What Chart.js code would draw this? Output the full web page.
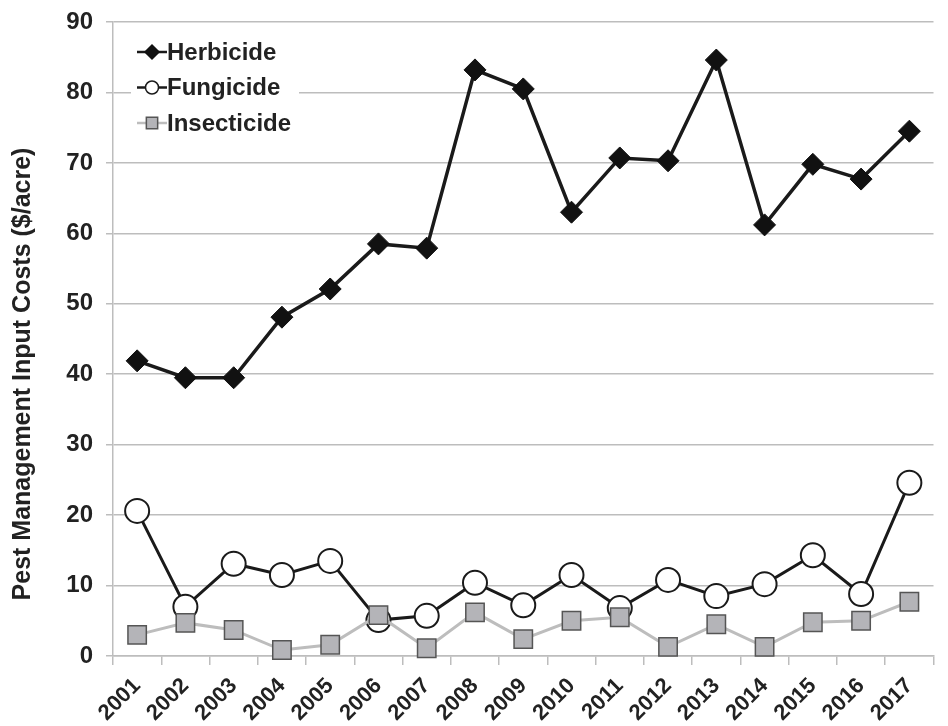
<!DOCTYPE html>
<html>
<head>
<meta charset="utf-8">
<script src="https://cdn.jsdelivr.net/npm/chart.js@4"></script>
<style>
  html, body { margin: 0; padding: 0; background: #fff; }
  #wrap { width: 948px; height: 726px; }
</style>
</head>
<body>
<div id="wrap"><canvas id="grafico"></canvas></div>
<script>
// dados
var anos = ["2001","2002","2003","2004","2005","2006","2007","2008","2009","2010","2011","2012","2013","2014","2015","2016","2017"];
var herbicida = [41.9, 39.5, 39.5, 48.1, 52.1, 58.5, 57.9, 83.2, 80.5, 63.0, 70.7, 70.3, 84.6, 61.2, 69.8, 67.7, 74.5];
var fungicida = [20.6, 7.0, 13.1, 11.5, 13.5, 5.1, 5.7, 10.4, 7.2, 11.5, 6.8, 10.8, 8.5, 10.2, 14.3, 8.8, 24.6];
var inseticida = [3.0, 4.7, 3.7, 0.85, 1.6, 5.8, 1.1, 6.2, 2.4, 5.0, 5.5, 1.3, 4.5, 1.3, 4.8, 5.0, 7.7];
var yTicks = [0, 10, 20, 30, 40, 50, 60, 70, 80, 90];
var tituloY = "Pest Management Input Costs ($/acre)";

var fonte = '"Liberation Sans", Arial, sans-serif';

// título do eixo y (um pouco abaixo do centro, como no original)
var tituloEixo = {
    id: 'tituloEixo',
    afterDraw: function(chart){
        var ctx = chart.ctx;
        var area = chart.chartArea;
        ctx.save();
        ctx.translate(23, (area.top + area.bottom) / 2 + 35);
        ctx.rotate(-Math.PI / 2);
        ctx.fillStyle = '#222';
        ctx.font = 'bold 25px ' + fonte;
        ctx.textAlign = 'center';
        ctx.textBaseline = 'middle';
        ctx.fillText(tituloY, 0, 0);
        ctx.restore();
    }
};

// legenda desenhada dentro da área do gráfico
var legendaInterna = {
    id: 'legendaInterna',
    afterDraw: function(chart){
        var ctx = chart.ctx;
        ctx.save();
        ctx.fillStyle = '#fff';
        ctx.fillRect(131, 32, 168, 110);
        chart.data.datasets.forEach(function(ds, i){
            var y = 52 + i * 35.5;
            ctx.strokeStyle = ds.borderColor;
            ctx.lineWidth = 2.5;
            ctx.beginPath();
            ctx.moveTo(137, y);
            ctx.lineTo(167, y);
            ctx.stroke();
            ctx.fillStyle = ds.pointBackgroundColor;
            ctx.strokeStyle = ds.pointBorderColor;
            ctx.lineWidth = 1.5;
            Chart.helpers.drawPoint(ctx, {
                pointStyle: ds.pointStyle,
                radius: ds.legendRadius,
                rotation: 0,
                borderWidth: 1.5
            }, 152, y);
            ctx.fillStyle = '#222';
            ctx.font = 'bold 24px ' + fonte;
            ctx.textAlign = 'left';
            ctx.textBaseline = 'middle';
            ctx.fillText(ds.label, 167, y + 1);
        });
        ctx.restore();
    }
};

var data = {
    labels: anos,
    datasets: [{
        label: "Herbicide",
        data: herbicida,
        borderColor: '#1a1a1a',
        backgroundColor: '#1a1a1a',
        borderWidth: 3.5,
        pointStyle: 'rectRot',
        pointRadius: 11,
        pointBackgroundColor: '#111',
        pointBorderColor: '#111',
        pointBorderWidth: 1,
        legendRadius: 7,
        order: 0
    }, {
        label: "Fungicide",
        data: fungicida,
        borderColor: '#1a1a1a',
        backgroundColor: '#fff',
        borderWidth: 3,
        pointStyle: 'circle',
        pointRadius: 12,
        pointBackgroundColor: '#fff',
        pointBorderColor: '#1a1a1a',
        pointBorderWidth: 2,
        legendRadius: 6.5,
        order: 2
    }, {
        label: "Insecticide",
        data: inseticida,
        borderColor: '#bdbdbd',
        backgroundColor: '#b4b4b8',
        borderWidth: 3,
        pointStyle: 'rect',
        pointRadius: 13,
        pointBackgroundColor: '#b4b4b8',
        pointBorderColor: '#555',
        pointBorderWidth: 1.5,
        legendRadius: 8,
        order: 1
    }]
};

var config = {
    type: 'line',
    data: data,
    plugins: [legendaInterna, tituloEixo],
    options: {
        responsive: true,
        maintainAspectRatio: false,
        animation: false,
        clip: false,
        layout: { padding: { top: 22, right: 8, left: 0, bottom: 0 } },
        plugins: {
            legend: { display: false },
            tooltip: { enabled: false }
        },
        elements: { line: { tension: 0 } },
        scales: {
            x: {
                offset: true,
                grid: {
                    offset: true,
                    drawOnChartArea: false,
                    drawTicks: true,
                    tickLength: 9,
                    color: '#bdbdbd',
                    lineWidth: 1.5
                },
                border: { color: '#bdbdbd', width: 1.5 },
                ticks: {
                    maxRotation: 45,
                    minRotation: 45,
                    autoSkip: false,
                    padding: 8,
                    color: '#222',
                    font: { family: fonte, size: 22, weight: 'bold' }
                },
                afterFit: function(scale){
                    scale.height = 70;
                    scale.paddingLeft = 0;
                    scale.paddingRight = 0;
                }
            },
            y: {
                min: 0,
                max: 90,
                afterBuildTicks: function(scale){
                    scale.ticks = yTicks.map(function(v){ return { value: v }; });
                },
                grid: {
                    color: '#bdbdbd',
                    lineWidth: 1.5,
                    tickLength: 7
                },
                border: { color: '#bdbdbd', width: 1.5 },
                ticks: {
                    padding: 13,
                    color: '#222',
                    font: { family: fonte, size: 24, weight: 'bold' }
                },
                afterFit: function(scale){
                    scale.width = 113;
                    scale.paddingTop = 0;
                    scale.paddingBottom = 0;
                }
            }
        }
    }
};

var grafico = new Chart(document.getElementById("grafico"), config);
</script>
</body>
</html>
